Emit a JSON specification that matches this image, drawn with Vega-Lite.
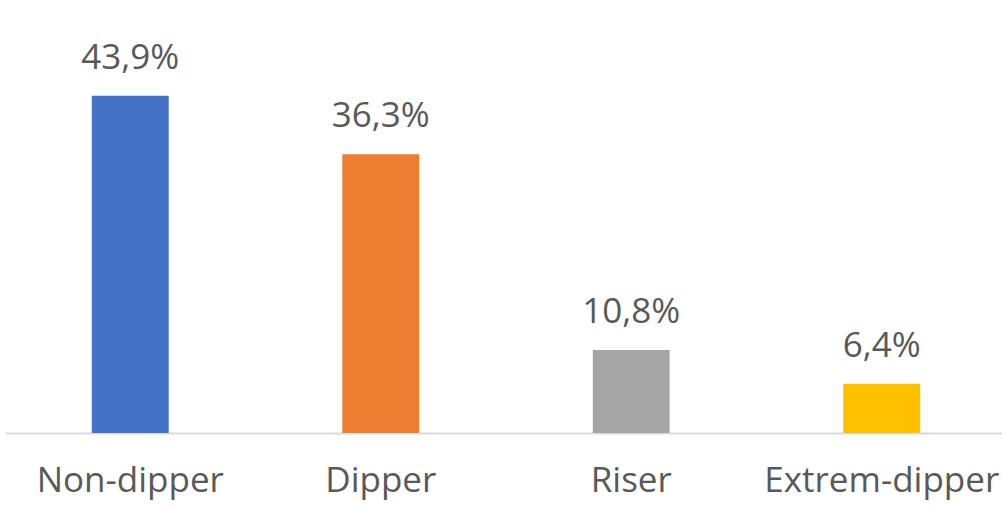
{
  "$schema": "https://vega.github.io/schema/vega-lite/v6.json",
  "autosize": "none",
  "width": 1002,
  "height": 384,
  "padding": {"left": 5, "top": 49, "right": 0, "bottom": 77},
  "background": "white",
  "data": {"values": [
    {"status": "Non-dipper", "pct": 43.9, "label": "43,9%"},
    {"status": "Dipper", "pct": 36.3, "label": "36,3%"},
    {"status": "Riser", "pct": 10.8, "label": "10,8%"},
    {"status": "Extrem-dipper", "pct": 6.4, "label": "6,4%"}
  ]},
  "encoding": {
    "x": {"field": "status", "type": "nominal", "sort": null,
      "scale": {"paddingInner": 0.693, "paddingOuter": 0.3465},
      "axis": {"title": null, "labelAngle": 0, "ticks": false, "domainColor": "#d9d9d9", "domainWidth": 2,
        "labelFont": "Open Sans", "labelFontSize": 35, "labelColor": "#595959", "labelPadding": 30, "labelBaseline": "top", "labelOverlap": false, "labelLimit": 0, "labelBound": false, "labelFlush": false}},
    "y": {"field": "pct", "type": "quantitative", "scale": {"domain": [0, 50]}, "axis": null}
  },
  "layer": [
    {"mark": {"type": "bar"},
     "encoding": {"color": {"field": "status", "type": "nominal", "sort": null, "legend": null,
        "scale": {"domain": ["Non-dipper", "Dipper", "Riser", "Extrem-dipper"], "range": ["#4472C4", "#ED7D31", "#A5A5A5", "#FFC000"]}}}},
    {"mark": {"type": "text", "baseline": "alphabetic", "dy": -27, "font": "Open Sans", "fontSize": 35, "color": "#595959"},
     "encoding": {"text": {"field": "label"}}}
  ],
  "config": {"view": {"stroke": null}}
}
